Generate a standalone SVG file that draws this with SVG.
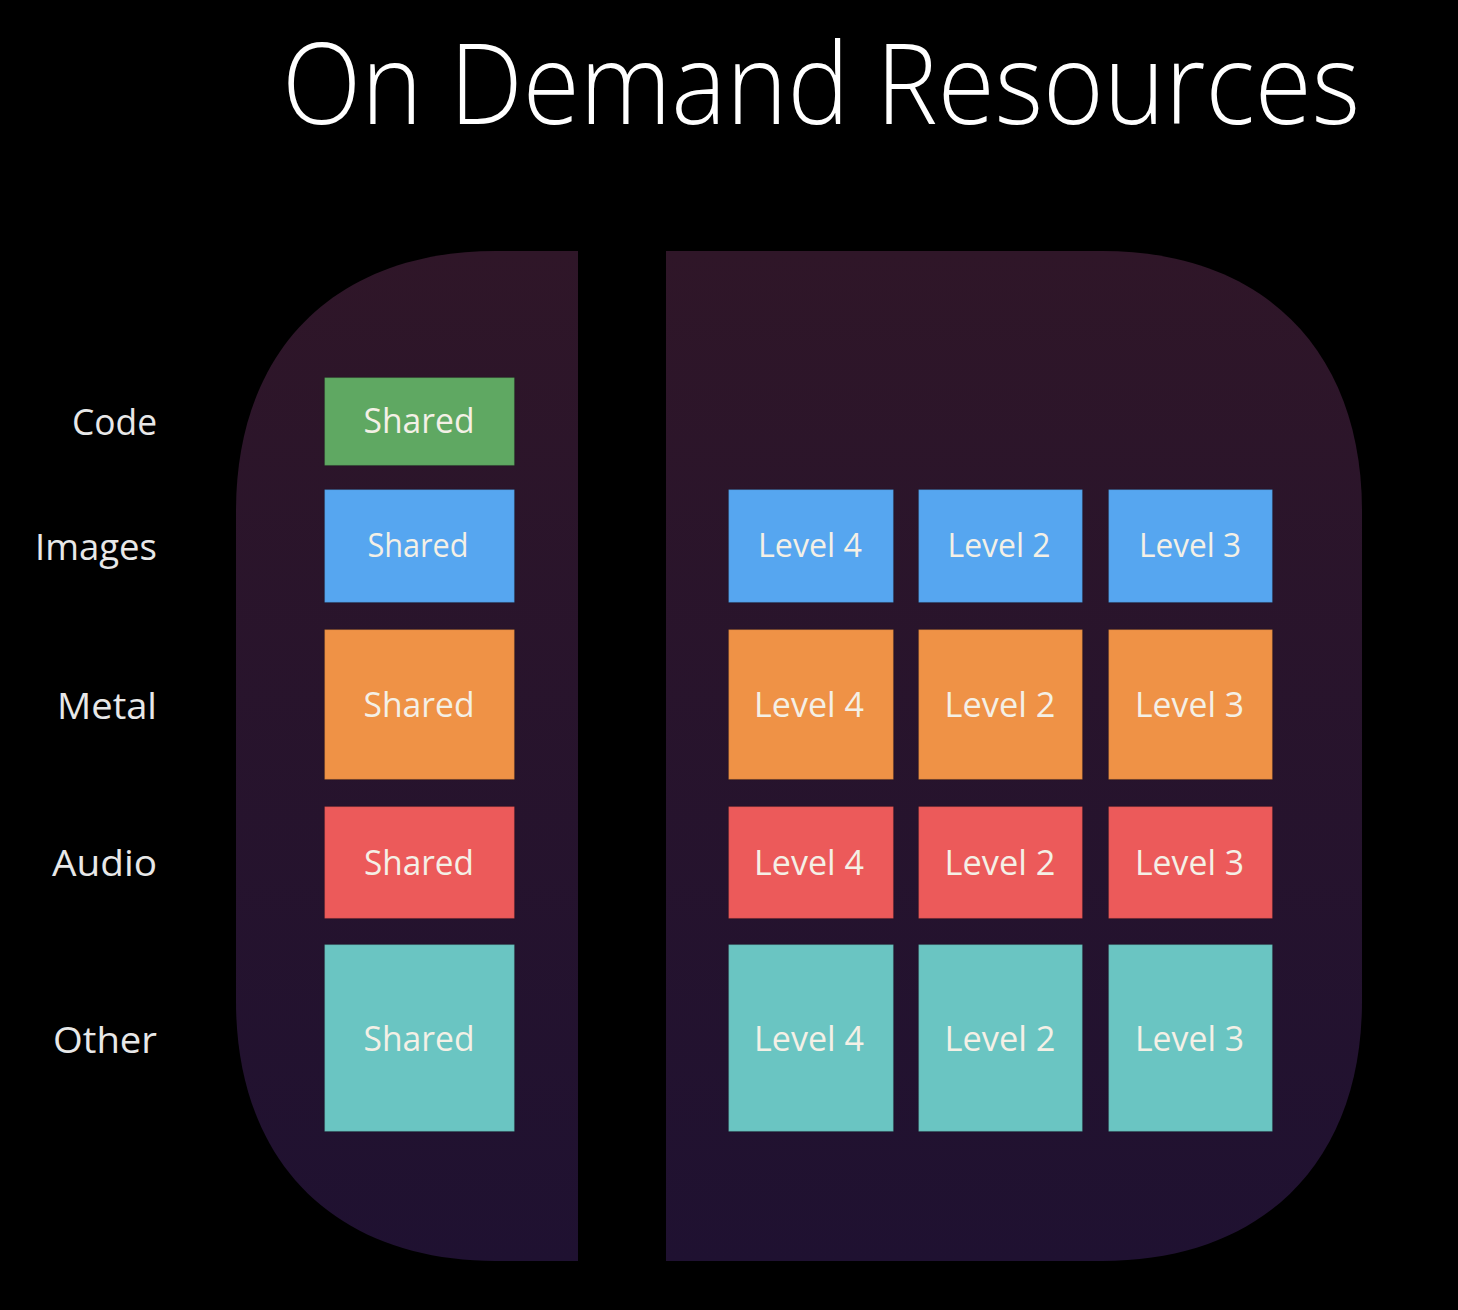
<svg xmlns="http://www.w3.org/2000/svg" width="1458" height="1310" viewBox="0 0 1458 1310">
<defs>
<linearGradient id="bg" x1="0" y1="0" x2="0" y2="1">
<stop offset="0" stop-color="#2f1628"/>
<stop offset="1" stop-color="#1f1131"/>
</linearGradient>
</defs>
<style>
text{font-family:"Open Sans","Noto Sans","Liberation Sans",sans-serif;}
.title{font-size:113px;font-weight:300;fill:#ffffff;}
.lbl{font-size:37px;fill:#e8e8e8;text-anchor:end;}
.bt{font-size:34px;fill:#f4f0e6;text-anchor:middle;}
.bt2{font-size:32px;fill:#f4f0e6;text-anchor:middle;}
.box{stroke:#000;stroke-opacity:0.18;stroke-width:1.2;}
.g{fill:#5fa862;}
.b{fill:#56a6f0;}
.o{fill:#ef9246;}
.r{fill:#ec5a5a;}
.t{fill:#6ac5c2;}
</style>
<rect x="0" y="0" width="1458" height="1310" fill="#000"/>
<text class="title" x="282" y="124" textLength="1078" lengthAdjust="spacingAndGlyphs">On Demand Resources</text>
<g id="container">
<path d="M496 251 H1102 C1263 251 1362 350 1362 511 V1001 C1362 1162 1263 1261 1102 1261 H496 C335 1261 236 1162 236 1001 V511 C236 350 335 251 496 251 Z" fill="url(#bg)"/>
<rect x="578" y="240" width="88" height="1030" fill="#000"/>
</g>
<g id="row-labels">
<text class="lbl" x="157" y="435" textLength="85" lengthAdjust="spacingAndGlyphs">Code</text>
<text class="lbl" x="157" y="560" textLength="122" lengthAdjust="spacingAndGlyphs">Images</text>
<text class="lbl" x="157" y="719" textLength="100" lengthAdjust="spacingAndGlyphs">Metal</text>
<text class="lbl" x="157" y="876" textLength="105" lengthAdjust="spacingAndGlyphs">Audio</text>
<text class="lbl" x="157" y="1053" textLength="104" lengthAdjust="spacingAndGlyphs">Other</text>
</g>
<g id="code-shared"><rect class="box g" x="324.5" y="377.5" width="190" height="88"/><text class="bt" x="419" y="433" textLength="111" lengthAdjust="spacingAndGlyphs">Shared</text></g>
<g id="images-shared"><rect class="box b" x="324.5" y="489.5" width="190" height="113"/><text class="bt2" x="418" y="557" textLength="101" lengthAdjust="spacingAndGlyphs">Shared</text></g>
<g id="images-level4"><rect class="box b" x="728.5" y="489.5" width="165" height="113"/><text class="bt2" x="810" y="557" textLength="104" lengthAdjust="spacingAndGlyphs">Level 4</text></g>
<g id="images-level2"><rect class="box b" x="918.5" y="489.5" width="164" height="113"/><text class="bt2" x="999" y="557" textLength="103" lengthAdjust="spacingAndGlyphs">Level 2</text></g>
<g id="images-level3"><rect class="box b" x="1108.5" y="489.5" width="164" height="113"/><text class="bt2" x="1190" y="557" textLength="102" lengthAdjust="spacingAndGlyphs">Level 3</text></g>
<g id="metal-shared"><rect class="box o" x="324.5" y="629.5" width="190" height="150"/><text class="bt" x="419" y="717" textLength="111" lengthAdjust="spacingAndGlyphs">Shared</text></g>
<g id="metal-level4"><rect class="box o" x="728.5" y="629.5" width="165" height="150"/><text class="bt" x="809" y="717" textLength="110" lengthAdjust="spacingAndGlyphs">Level 4</text></g>
<g id="metal-level2"><rect class="box o" x="918.5" y="629.5" width="164" height="150"/><text class="bt" x="1000" y="717" textLength="111" lengthAdjust="spacingAndGlyphs">Level 2</text></g>
<g id="metal-level3"><rect class="box o" x="1108.5" y="629.5" width="164" height="150"/><text class="bt" x="1189.5" y="717" textLength="109" lengthAdjust="spacingAndGlyphs">Level 3</text></g>
<g id="audio-shared"><rect class="box r" x="324.5" y="806.5" width="190" height="112"/><text class="bt" x="419" y="875" textLength="110" lengthAdjust="spacingAndGlyphs">Shared</text></g>
<g id="audio-level4"><rect class="box r" x="728.5" y="806.5" width="165" height="112"/><text class="bt" x="809" y="875" textLength="110" lengthAdjust="spacingAndGlyphs">Level 4</text></g>
<g id="audio-level2"><rect class="box r" x="918.5" y="806.5" width="164" height="112"/><text class="bt" x="1000" y="875" textLength="111" lengthAdjust="spacingAndGlyphs">Level 2</text></g>
<g id="audio-level3"><rect class="box r" x="1108.5" y="806.5" width="164" height="112"/><text class="bt" x="1189.5" y="875" textLength="109" lengthAdjust="spacingAndGlyphs">Level 3</text></g>
<g id="other-shared"><rect class="box t" x="324.5" y="944.5" width="190" height="187"/><text class="bt" x="419" y="1051" textLength="111" lengthAdjust="spacingAndGlyphs">Shared</text></g>
<g id="other-level4"><rect class="box t" x="728.5" y="944.5" width="165" height="187"/><text class="bt" x="809" y="1051" textLength="110" lengthAdjust="spacingAndGlyphs">Level 4</text></g>
<g id="other-level2"><rect class="box t" x="918.5" y="944.5" width="164" height="187"/><text class="bt" x="1000" y="1051" textLength="111" lengthAdjust="spacingAndGlyphs">Level 2</text></g>
<g id="other-level3"><rect class="box t" x="1108.5" y="944.5" width="164" height="187"/><text class="bt" x="1189.5" y="1051" textLength="109" lengthAdjust="spacingAndGlyphs">Level 3</text></g>
<g id="connectors"></g>
</svg>
